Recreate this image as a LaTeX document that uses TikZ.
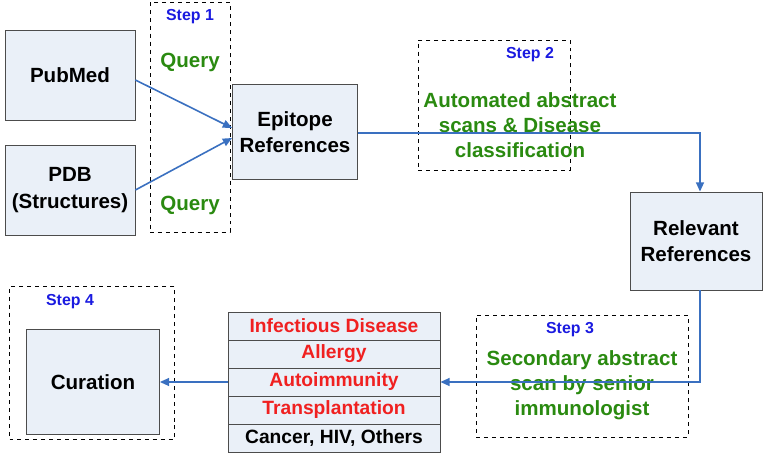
\documentclass[tikz,border=0pt]{standalone}
\usepackage{fontspec}
\setmainfont{Liberation Sans}
\usetikzlibrary{arrows.meta}
\definecolor{boxfill}{HTML}{EAF0F8}
\definecolor{flow}{HTML}{3A70C0}
\definecolor{stepblue}{HTML}{1A1AE0}
\definecolor{stepgreen}{HTML}{2A8A10}
\definecolor{listred}{HTML}{F02020}
\begin{document}
\begin{tikzpicture}[x=0.0265cm, y=-0.0265cm,
    proc/.style={draw=black!70, fill=boxfill, line width=0.6pt, font=\bfseries\fontsize{15.5}{20}\selectfont, align=center, inner sep=0pt},
    stepframe/.style={draw, dashed, line width=0.6pt, inner sep=0pt},
    steplbl/.style={text=stepblue, font=\bfseries\fontsize{12}{14}\selectfont},
    todo/.style={text=stepgreen, font=\bfseries\fontsize{15.5}{19}\selectfont, align=center},
    item/.style={draw=black!70, fill=boxfill, line width=0.6pt, minimum width=212*0.0265cm, minimum height=28*0.0265cm, font=\bfseries\fontsize{14.5}{17}\selectfont, inner sep=0pt},
    flowline/.style={draw=flow, line width=1.2pt, -{Triangle[length=7pt,width=6pt]}}]
    \useasboundingbox (0,0) rectangle (767,453);

    % dashed step frames
    \node[stepframe, minimum width=80*0.0265cm, minimum height=230*0.0265cm] (s1) at (190,117) {};
    \node[stepframe, minimum width=152*0.0265cm, minimum height=130*0.0265cm] (s2) at (494,105) {};
    \node[stepframe, minimum width=212*0.0265cm, minimum height=122*0.0265cm] (s3) at (582,376) {};
    \node[stepframe, minimum width=165*0.0265cm, minimum height=153*0.0265cm] (s4) at (92,363) {};

    % boxes
    \node[proc, minimum width=130*0.0265cm, minimum height=90*0.0265cm] (pubmed) at (70,75) {PubMed};
    \node[proc, minimum width=130*0.0265cm, minimum height=90*0.0265cm] (pdb) at (70,190) {PDB\\(Structures)};
    \node[proc, minimum width=125*0.0265cm, minimum height=95*0.0265cm] (epi) at (295,132) {Epitope\\References};
    \node[proc, minimum width=132*0.0265cm, minimum height=98*0.0265cm] (rel) at (696,241) {Relevant\\References};
    \node[proc, minimum width=133*0.0265cm, minimum height=105*0.0265cm] (cur) at (93,382) {Curation};

    % category list
    \node[item, text=listred] (l1) at (334,326) {Infectious Disease};
    \node[item, text=listred] (l2) at (334,354) {Allergy};
    \node[item, text=listred] (l3) at (334,382) {Autoimmunity};
    \node[item, text=listred] (l4) at (334,410) {Transplantation};
    \node[item] (l5) at (334,438) {Cancer, HIV, Others};

    % step labels
    \node[steplbl] (t1) at (190,17) {Step 1};
    \node[todo] (q1) at (190,62) {Query};
    \node[todo] (q2) at (190,205) {Query};
    \node[steplbl] (t2) at (530,55) {Step 2};
    \node[todo] (d2) at (520,125) {Automated abstract\\scans \& Disease\\classification};
    \node[steplbl] (t3) at (570,330) {Step 3};
    \node[todo] (d3) at (582,385) {Secondary abstract\\scan by senior\\immunologist};
    \node[steplbl] (t4) at (70,302) {Step 4};

    % flow
    \coordinate (c1) at (700,133);
    \coordinate (c2) at (700,382);
    \draw[flowline] (pubmed.east |- 0,80) -- (epi.west |- 0,128);
    \draw[flowline] (pdb.east |- 0,190) -- (epi.west |- 0,138);
    \draw[flowline] (epi.east |- c1) -- (c1) -- (rel.north -| c1);
    \draw[flowline] (rel.south -| c2) -- (c2) -- (l3.east);
    \draw[flowline] (l3.west) -- (cur.east);
\end{tikzpicture}
\end{document}
